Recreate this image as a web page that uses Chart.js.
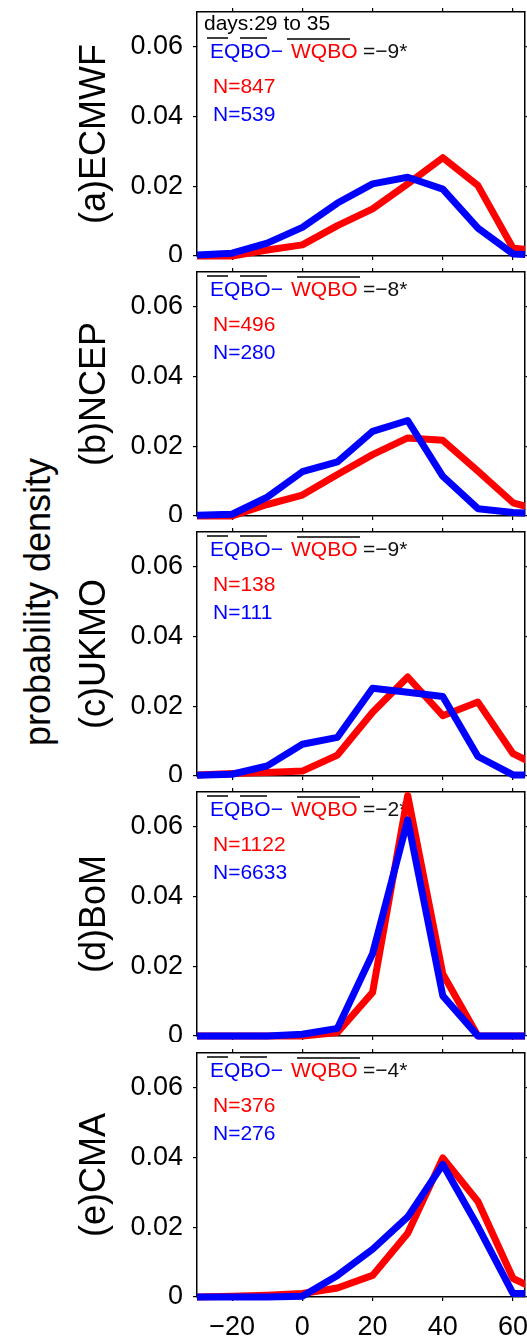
<!DOCTYPE html>
<html>
<head>
<meta charset="utf-8">
<title>QBO lead-time PDFs</title>
<script src="https://cdn.jsdelivr.net/npm/chart.js@4.4.0/dist/chart.umd.min.js"></script>
<style>
    html, body { margin: 0; padding: 0; background: #fff; }
    #figure { position: relative; width: 527px; height: 1340px; overflow: hidden; }
    #figure canvas { position: absolute; left: 0; }
    #ylabel {
        position: absolute; left: -162px; top: 584px; width: 400px;
        font: 36px "Liberation Sans", Arial, Helvetica, sans-serif; line-height: 36px;
        text-align: center; color: #000; transform: rotate(-90deg);
    }
</style>
</head>
<body>
<div id="figure">
    <div id="ylabel">probability density</div>
</div>
<script>
// =====================================================
// DATA
// =====================================================

// bin centres (days) and axis ticks
const binCentres = [-30, -20, -10, 0, 10, 20, 30, 40, 50, 60, 70];
const xTicks = [-20, 0, 20, 40, 60];
const yTicks = [0, 0.02, 0.04, 0.06];

const models = ['(a)ECMWF', '(b)NCEP', '(c)UKMO', '(d)BoM', '(e)CMA'];
const leadDays = [29, 35];

// probability density per bin, easterly QBO (blue) / westerly QBO (red)
const eqboECMWF = [0.0003, 0.0008, 0.0037, 0.0082, 0.0152, 0.0207, 0.0226, 0.0192, 0.0080, 0.0006, 0.0002];
const wqboECMWF = [0, 0, 0.0017, 0.0032, 0.0087, 0.0135, 0.0207, 0.0282, 0.0202, 0.0022, 0.0015];

const eqboNCEP = [0.0002, 0.0005, 0.0054, 0.0127, 0.0155, 0.0243, 0.0274, 0.0114, 0.0021, 0.0010, 0.0005];
const wqboNCEP = [0, 0, 0.0033, 0.0060, 0.0119, 0.0176, 0.0224, 0.0217, 0.0129, 0.0038, 0.0010];

const eqboUKMO = [0.0002, 0.0005, 0.0029, 0.0091, 0.0111, 0.0252, 0.0240, 0.0228, 0.0056, 0.0003, 0.0002];
const wqboUKMO = [0.0003, 0.0007, 0.0010, 0.0014, 0.0060, 0.0183, 0.0284, 0.0173, 0.0212, 0.0064, 0.0015];

const eqboBoM = [0, 0, 0, 0.0005, 0.0022, 0.0236, 0.0620, 0.0115, 0, 0, 0];
const wqboBoM = [0, 0, 0, 0, 0.0010, 0.0125, 0.0690, 0.0178, 0, 0, 0];

const eqboCMA = [0, 0, 0, 0.0002, 0.0062, 0.0137, 0.0230, 0.0380, 0.0202, 0.0010, 0.0010];
const wqboCMA = [0, 0.0002, 0.0005, 0.0010, 0.0026, 0.0062, 0.0183, 0.0399, 0.0274, 0.0053, 0.0005];

const eqboSeries = [eqboECMWF, eqboNCEP, eqboUKMO, eqboBoM, eqboCMA];
const wqboSeries = [wqboECMWF, wqboNCEP, wqboUKMO, wqboBoM, wqboCMA];

// sample sizes and mean difference (EQBO - WQBO)
const nWQBO = [847, 496, 138, 1122, 376];
const nEQBO = [539, 280, 111, 6633, 276];
const meanDiff = [-9, -8, -9, -2, -4];

// =====================================================
// LAYOUT / STYLE
// =====================================================

const FONT = '"Liberation Sans", Arial, Helvetica, sans-serif';
const BLUE = '#0000ff';
const RED = '#ff0000';
const PANEL_H = 244;
const panelBottoms = [256, 516, 776, 1036, 1297];
const PLOT_LEFT = 197;
const PLOT_RIGHT = 525;
const X_MIN = -30;
const X_MAX = 63.4;

function menos(v) {
    return v < 0 ? '\u2212' + Math.abs(v) : String(v);
}

// texto dentro de cada painel (desenhado por baixo das curvas)
const panelText = {
    id: 'panelText',
    beforeDatasetsDraw(chart, args, opts) {
        const i = opts.index;
        const { ctx } = chart;
        const { left, top } = chart.chartArea;
        const dy = i === 0 ? 22 : 0;

        ctx.save();
        ctx.font = '21px ' + FONT;
        ctx.textBaseline = 'middle';
        ctx.textAlign = 'left';

        if (i === 0) {
            ctx.fillStyle = '#000';
            ctx.fillText('days:' + leadDays[0] + ' to ' + leadDays[1], left + 7, top + 12);
        }

        const y = top + 18 + dy;
        ctx.fillStyle = BLUE;
        ctx.fillText('EQBO\u2212', left + 13, y);
        ctx.fillStyle = RED;
        ctx.fillText('WQBO', left + 94, y);
        ctx.fillStyle = '#111';
        ctx.fillText('=' + menos(meanDiff[i]) + '*', left + 166, y);

        ctx.fillStyle = RED;
        ctx.fillText('N=' + nWQBO[i], left + 16, top + 53 + dy);
        ctx.fillStyle = BLUE;
        ctx.fillText('N=' + nEQBO[i], left + 16, top + 81 + dy);

        // barras de média
        ctx.strokeStyle = '#000';
        ctx.lineWidth = 1.6;
        const yb = top + 4 + dy;
        const longStart = i === 0 ? 90 : 100;
        ctx.beginPath();
        ctx.moveTo(left + 10, yb); ctx.lineTo(left + 31, yb);
        ctx.moveTo(left + 43, yb); ctx.lineTo(left + 70, yb);
        ctx.moveTo(left + longStart, yb + 1); ctx.lineTo(left + longStart + 63, yb + 1);
        ctx.stroke();
        ctx.restore();
    }
};

const axisBorder = { display: true, color: '#000', width: 1.5 };
const tickGrid = { drawOnChartArea: false, drawTicks: true, tickLength: 4, color: '#000', lineWidth: 1.2 };

function setTicks(values) {
    return scale => { scale.ticks = values.map(v => ({ value: v })); };
}

function linha(series, color) {
    return {
        data: binCentres.map((x, k) => ({ x: x, y: series[k] })),
        borderColor: color,
        backgroundColor: color,
        borderWidth: 7,
        borderJoinStyle: 'round',
        pointRadius: 0,
        tension: 0,
        clip: { left: 0, right: 0, top: 0, bottom: 8 }
    };
}

// =====================================================
// PAINÉIS
// =====================================================

function criarPainel(i) {
    const figure = document.getElementById('figure');
    const last = i === models.length - 1;
    const bottomRoom = last ? 44 : 6;
    const top = panelBottoms[i] - PANEL_H;

    const canvas = document.createElement('canvas');
    canvas.width = 527;
    canvas.height = 6 + PANEL_H + bottomRoom;
    canvas.style.top = (top - 6) + 'px';
    figure.appendChild(canvas);

    new Chart(canvas, {
        type: 'line',
        data: {
            // blue first so it is drawn on top
            datasets: [linha(eqboSeries[i], BLUE), linha(wqboSeries[i], RED)]
        },
        options: {
            responsive: false,
            animation: false,
            devicePixelRatio: 1,
            layout: { padding: 0 },
            plugins: {
                legend: { display: false },
                tooltip: { enabled: false },
                panelText: { index: i }
            },
            scales: {
                x: {
                    type: 'linear', position: 'bottom', min: X_MIN, max: X_MAX,
                    border: axisBorder, grid: tickGrid,
                    afterBuildTicks: setTicks(xTicks),
                    ticks: {
                        display: last, color: '#000', padding: 10, maxRotation: 0,
                        font: { family: FONT, size: 27 },
                        callback: v => menos(v)
                    },
                    afterFit: s => { s.height = bottomRoom; s.paddingLeft = 0; s.paddingRight = 0; }
                },
                xTop: {
                    type: 'linear', position: 'top', min: X_MIN, max: X_MAX,
                    border: axisBorder, grid: tickGrid,
                    afterBuildTicks: setTicks(xTicks),
                    ticks: { display: false },
                    afterFit: s => { s.height = 6; s.paddingLeft = 0; s.paddingRight = 0; }
                },
                y: {
                    type: 'linear', position: 'left', min: 0, max: 0.07,
                    border: axisBorder, grid: tickGrid,
                    afterBuildTicks: setTicks(yTicks),
                    ticks: {
                        color: '#000', padding: 10,
                        font: { family: FONT, size: 27 },
                        callback: v => (v === 0 ? '0' : v.toFixed(2))
                    },
                    title: {
                        display: true, text: models[i], color: '#000',
                        font: { family: FONT, size: 36 },
                        padding: { top: 73, bottom: 0 }
                    },
                    afterFit: s => { s.width = PLOT_LEFT; s.paddingTop = 0; s.paddingBottom = 0; }
                },
                yRight: {
                    type: 'linear', position: 'right', min: 0, max: 0.07,
                    border: axisBorder, grid: tickGrid,
                    afterBuildTicks: setTicks(yTicks),
                    ticks: { display: false },
                    afterFit: s => { s.width = 527 - PLOT_RIGHT; s.paddingTop = 0; s.paddingBottom = 0; }
                }
            }
        },
        plugins: [panelText]
    });
}

models.forEach((m, i) => criarPainel(i));
</script>
</body>
</html>
